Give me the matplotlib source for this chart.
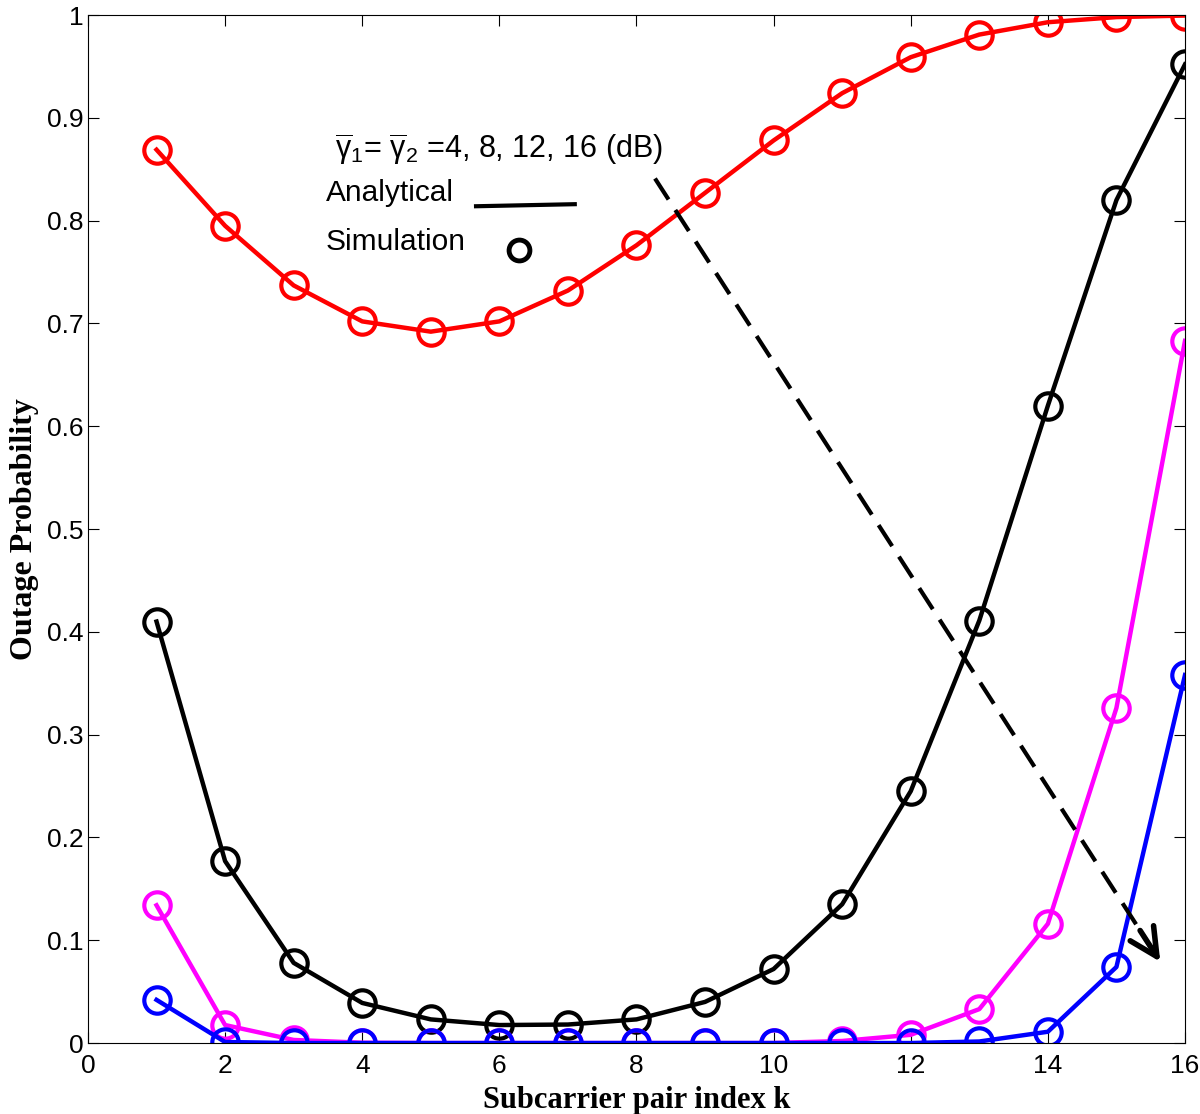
import numpy as np
import matplotlib.pyplot as plt

k = np.arange(1, 17)

# outage probability for avg SNR 4, 8, 12, 16 dB
p_4db = [0.869, 0.795, 0.737, 0.702, 0.692, 0.702, 0.732, 0.776,
         0.827, 0.878, 0.924, 0.959, 0.981, 0.993, 0.998, 0.9995]
p_8db = [0.410, 0.177, 0.078, 0.039, 0.023, 0.0175, 0.018, 0.023,
         0.040, 0.072, 0.135, 0.245, 0.411, 0.620, 0.820, 0.952]
p_12db = [0.134, 0.0175, 0.003, 0.0003, 0.0, 0.0, 0.0, 0.0,
          0.0, 0.0, 0.002, 0.008, 0.033, 0.116, 0.326, 0.683]
p_16db = [0.042, 0.001, 0.0, 0.0, 0.0, 0.0, 0.0, 0.0,
          0.0, 0.0, 0.0, 0.0, 0.0015, 0.011, 0.074, 0.358]

series = [(p_4db, 'red'), (p_8db, 'black'), (p_12db, 'magenta'), (p_16db, 'blue')]

# dashed arrow (start, end) in data coords
arrow_x = [8.27, 15.64]
arrow_y = [0.841, 0.079]

plt.rcParams['font.family'] = ['Liberation Sans', 'DejaVu Sans']
plt.rcParams['mathtext.fontset'] = 'custom'
plt.rcParams['mathtext.rm'] = 'Liberation Sans'
plt.rcParams['mathtext.it'] = 'Liberation Sans'

fig = plt.figure(figsize=(12, 11.14), dpi=100)
ax = fig.add_axes([0.0733, 0.0637, 0.9142, 0.9228])

for y, c in series:
    ax.plot(k, y, '-', color=c, linewidth=3.2, marker='o', markersize=19,
            markerfacecolor='none', markeredgewidth=3)

# annotation: dashed arrow showing increasing SNR
ax.plot(arrow_x, arrow_y, color='black', lw=3, linestyle=(0, (6, 3)))
t = 0.96
ax.annotate('', xy=(arrow_x[1], arrow_y[1]),
            xytext=(arrow_x[0] + t * (arrow_x[1] - arrow_x[0]),
                    arrow_y[0] + t * (arrow_y[1] - arrow_y[0])),
            arrowprops=dict(arrowstyle='->,head_length=0.5,head_width=0.25',
                            color='black', lw=4, mutation_scale=40,
                            shrinkA=0, shrinkB=0))
ax.text(3.6, 0.869, r'$\overline{\mathrm{\gamma}}_1$= $\overline{\mathrm{\gamma}}_2$ =4, 8, 12, 16 (dB)',
        fontsize=22, va='center')
ax.text(3.47, 0.827, 'Analytical', fontsize=21.5, va='center')
ax.plot([5.66, 7.10], [0.814, 0.816], color='black', linewidth=3)
ax.text(3.47, 0.779, 'Simulation', fontsize=21.5, va='center')
ax.plot([6.29], [0.771], 'o', color='black', markersize=15,
        markerfacecolor='none', markeredgewidth=3.5)

ax.set_xlim(0, 16)
ax.set_ylim(0, 1)
ax.set_xticks(np.arange(0, 17, 2))
ax.set_yticks(np.arange(0, 1.01, 0.1))
ax.set_yticklabels(['0'] + ['%.1f' % v for v in np.arange(0.1, 0.95, 0.1)] + ['1'])
ax.tick_params(direction='in', top=True, right=True, labelsize=19, length=8)
ax.tick_params(axis='x', pad=8)
ax.tick_params(axis='y', pad=3)

ax.set_xlabel('Subcarrier pair index k', fontsize=22, fontweight='bold',
              family='Liberation Serif', labelpad=6)
ax.set_ylabel('Outage Probability', fontsize=23, fontweight='bold',
              family='Liberation Serif', labelpad=6)

fig.savefig('out.png', dpi=100)
